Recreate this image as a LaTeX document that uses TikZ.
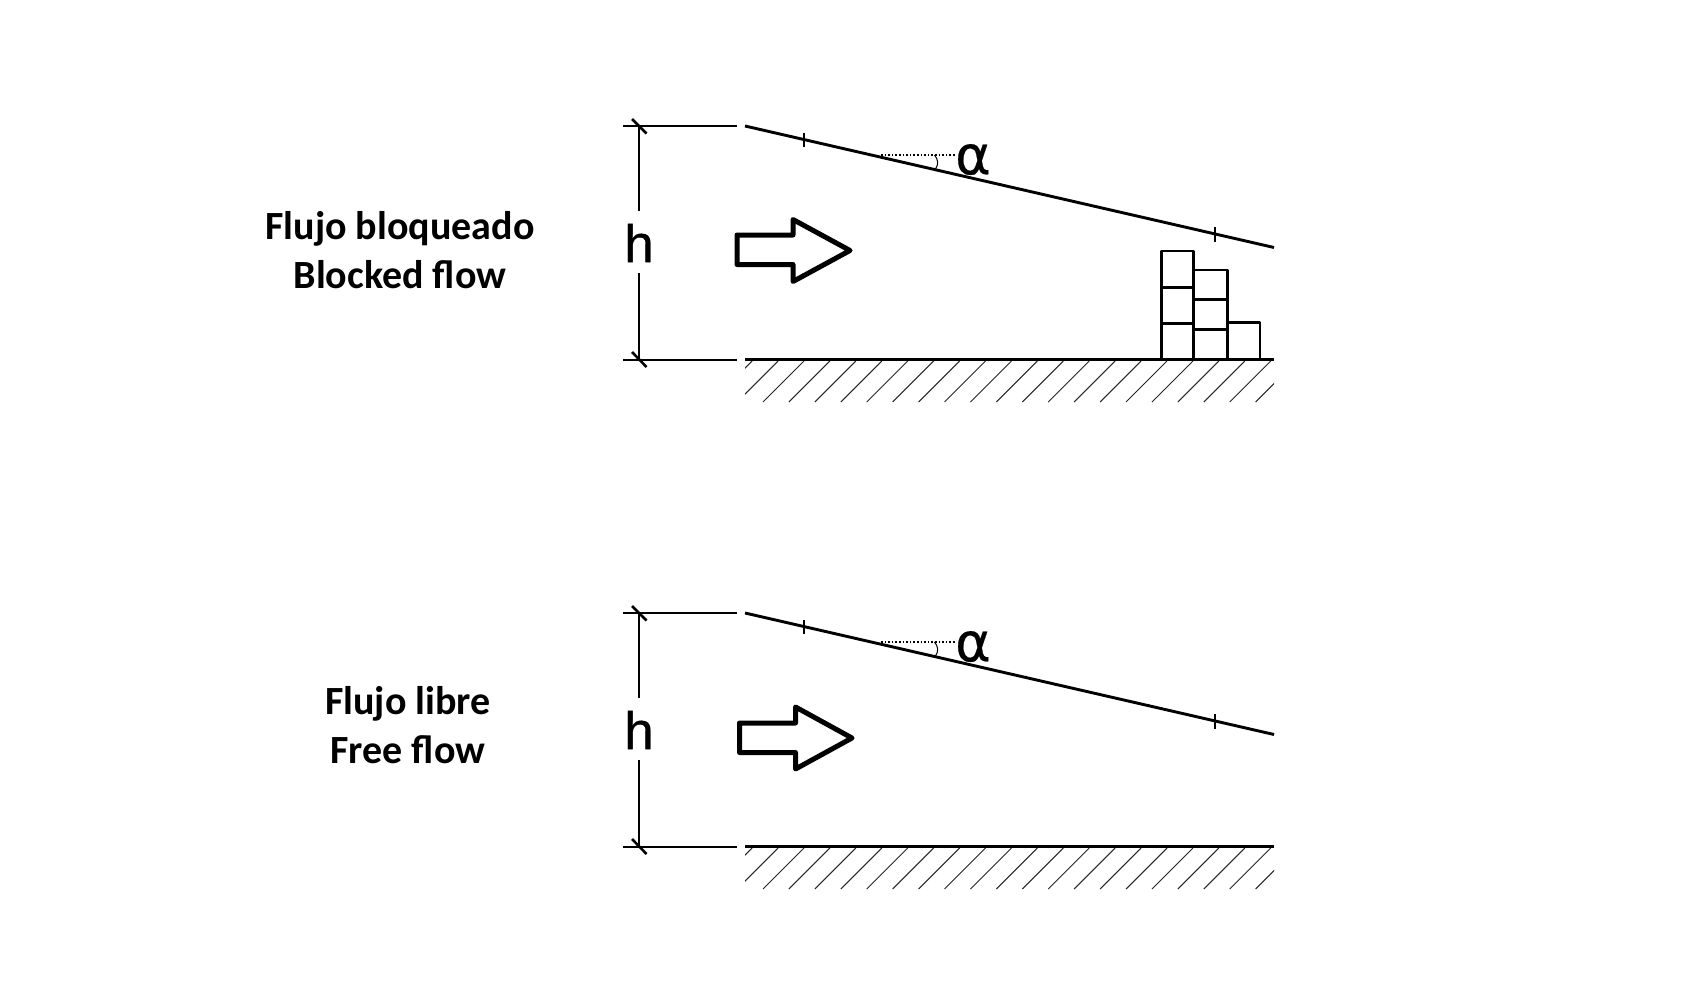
\documentclass[tikz,border=0pt]{standalone}
\usepackage{fontspec}
\setmainfont{Liberation Sans}
\newfontfamily\labelfont{Carlito}[BoldFont={Carlito Bold}]
\newfontfamily\symfont{Liberation Sans}[FakeBold=0.6]
\newfontfamily\greekfont{DejaVu Sans}[FakeBold=0.4]
\begin{document}
\begin{tikzpicture}[x=0.5pt,y=-0.5pt,line join=round,
  dimline/.style={line width=1pt,black},
  heavy/.style={line width=1.45pt,black},
  hatchline/.style={line width=0.5pt,black!85},
  flowarrow/.style={line width=2.5pt,black,line join=round,fill=white},
  panellabel/.style={font=\labelfont\bfseries\fontsize{20}{24.5}\selectfont,align=center,inner sep=0pt},
  hsym/.style={font=\symfont\fontsize{26.5}{26}\selectfont,inner sep=0pt},
  asym/.style={font=\greekfont\fontsize{27}{27}\selectfont,inner sep=0pt},
  panel/.pic={
    \coordinate (-dt) at (639,126);
    \coordinate (-db) at (639,359.5);
    \coordinate (-lt) at (623,126);
    \coordinate (-lte) at (737,126);
    \coordinate (-lb) at (623,359.5);
    \coordinate (-lbe) at (737,359.5);
    \coordinate (-s0) at (745,126);
    \coordinate (-s1) at (1274,247.5);
    \coordinate (-g0) at (745,359.5);
    \coordinate (-g1) at (1274,359.5);
    \node[hsym] (-h) at (639,243) {h};
    \node[asym] (-a) at (973,159.5) {α};
    \draw[dimline] (-lt) -- (-lte);
    \draw[dimline] (-lb) -- (-lbe);
    \draw[dimline] (-dt) -- (639,211);
    \draw[dimline] (639,273) -- (-db);
    \draw[line width=1.3pt] (632,119) -- (646.5,133.5);
    \draw[line width=1.3pt] (632,352) -- (646.5,367);
    \draw[heavy] (-s0) -- (-s1);
    \draw[heavy] (-g0) -- (-g1);
    \draw[line width=1.1pt] (804,133) -- (804,147);
    \draw[line width=1.1pt] (1215,227) -- (1215,241.5);
    \draw[line width=0.8pt,densely dotted] (881,155) -- (955,155);
    \draw[line width=0.5pt] (934.5,155) .. controls (938.5,159.5) and (938.5,165) .. (935.5,169);
    \begin{scope}
      \clip (745,361) rectangle (1274,402);
      \foreach \k in {-2,...,19} {
        \draw[hatchline] ({763+25.93*\k},402) -- ({763+25.93*\k+41},361);
      }
    \end{scope}
  }]
\useasboundingbox (0,0) rectangle (1685,995);
\fill[white] (0,0) rectangle (1685,995);

\pic (up) at (0,0) {panel};
\pic (lo) at (0,487) {panel};

\node[panellabel] (t1) at (400,250.5) {Flujo bloqueado\\Blocked flow};
\node[panellabel] (t2) at (408,725) {Flujo libre\\Free flow};

\draw[flowarrow] (737,235) -- (793,235) -- (793,219.5) -- (850,250.5) -- (793,281.5) -- (793,264.5) -- (737,264.5) -- cycle;
\draw[flowarrow] (739.5,723) -- (795.5,723) -- (795.5,707) -- (852,738) -- (795.5,769) -- (795.5,752.5) -- (739.5,752.5) -- cycle;

\draw[line width=1.35pt] (1161.3,359.5) -- (1161.3,251) -- (1193.7,251) -- (1193.7,359.5);
\draw[line width=1.35pt] (1161.3,287.3) -- (1193.7,287.3);
\draw[line width=1.35pt] (1161.3,323.3) -- (1193.7,323.3);
\draw[line width=1.35pt] (1193.7,270) -- (1227.3,270) -- (1227.3,359.5);
\draw[line width=1.35pt] (1193.7,299.3) -- (1227.3,299.3);
\draw[line width=1.35pt] (1193.7,329.3) -- (1227.3,329.3);
\draw[line width=1.35pt] (1227.3,322.3) -- (1260,322.3) -- (1260,359.5);
\end{tikzpicture}
\end{document}
